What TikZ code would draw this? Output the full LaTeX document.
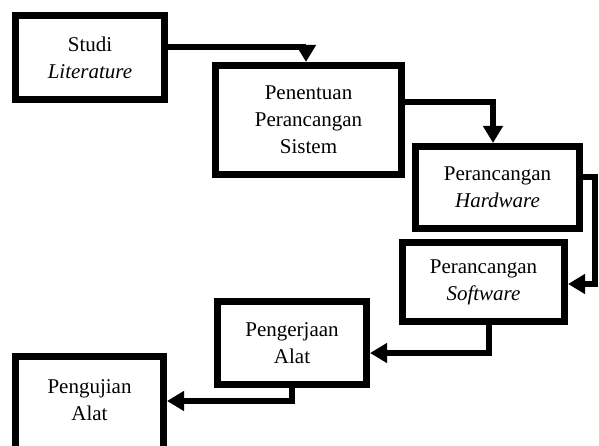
\documentclass[tikz,border=0pt]{standalone}
\usepackage{fontspec}
\setmainfont{Liberation Serif}
\usetikzlibrary{arrows.meta}

\begin{document}
\begin{tikzpicture}[x=1pt,y=1pt,yscale=-1,
  box/.style={draw,line width=7pt,align=center,inner sep=0pt,font=\fontsize{21}{27}\selectfont},
  flow/.style={line width=6.5pt,-{Triangle[length=17pt,width=19pt]}}]
\useasboundingbox (0,0) rectangle (599,446);
\node[box,minimum width=149pt,minimum height=84pt] (studi) at (90,57.5) {Studi\\\textit{Literature}};
\node[box,minimum width=186pt,minimum height=109pt] (sistem) at (308.5,120) {Penentuan\\Perancangan\\Sistem};
\node[box,minimum width=164pt,minimum height=82pt] (hardware) at (497.5,187.5) {Perancangan\\\textit{Hardware}};
\node[box,minimum width=162pt,minimum height=79pt] (software) at (483.5,282) {Perancangan\\\textit{Software}};
\node[box,minimum width=149pt,minimum height=83pt] (alat) at (292,343) {Pengerjaan\\Alat};
\node[box,minimum width=148pt,minimum height=110pt,text depth=21pt] (uji) at (89.5,411) {Pengujian\\Alat};
\draw[flow] ([yshift=-10.5pt]studi.east) -| ([xshift=-2.5pt]sistem.north);
\draw[flow] ([yshift=-18pt]sistem.east) -| ([xshift=-4.5pt]hardware.north);
\draw[flow] ([yshift=-10.5pt]hardware.east) -- ++(12,0) |- ([yshift=2pt]software.east);
\draw[flow] ([xshift=5.5pt]software.south) |- ([yshift=10pt]alat.east);
\draw[flow] (alat.south) |- ([yshift=-10pt]uji.east);
\end{tikzpicture}
\end{document}
